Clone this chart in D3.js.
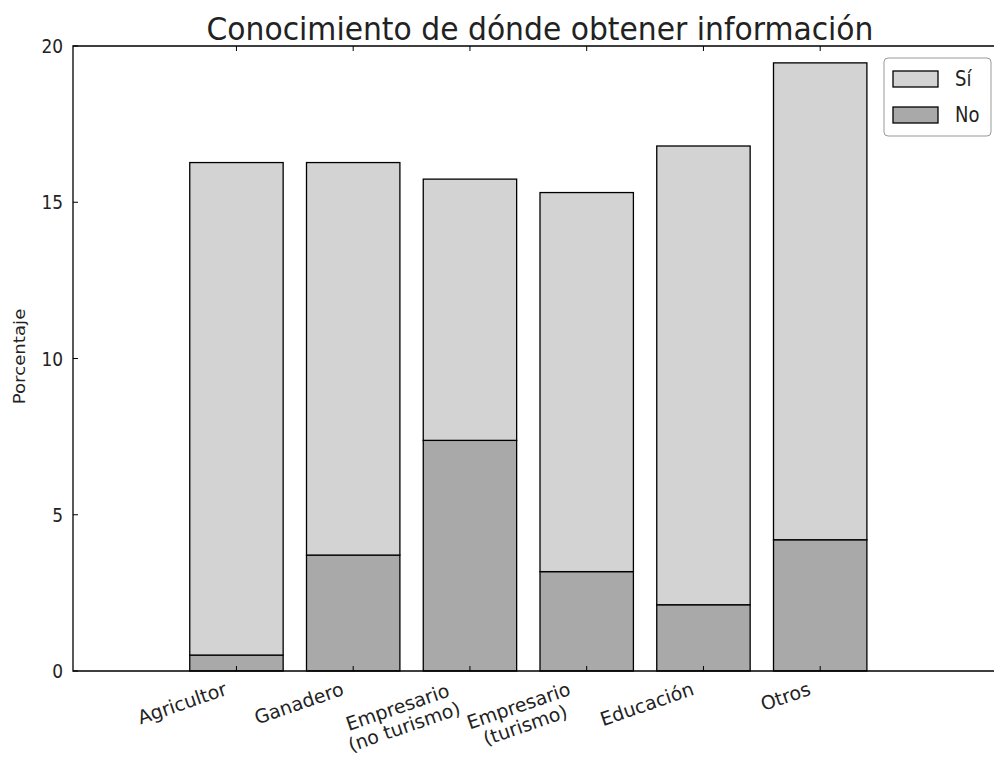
<!DOCTYPE html>
<html><head><meta charset="utf-8">
<script src="https://cdn.jsdelivr.net/npm/d3@7"></script>
<style>body{margin:0;background:#fff}svg{display:block;font-family:"DejaVu Sans",sans-serif}</style>
</head><body>
<svg id="c" width="994" height="758"></svg>
<script>
const categories = [["Agricultor"],["Ganadero"],["Empresario","(no turismo)"],["Empresario","(turismo)"],["Educación"],["Otros"]];
const noValues = [0.51, 3.71, 7.38, 3.18, 2.12, 4.20];
const siValues = [15.76, 12.56, 8.36, 12.13, 14.68, 15.26];
const yTicks = [0, 5, 10, 15, 20];
const seriesNames = ["Sí", "No"];
const colors = {"Sí": "#d3d3d3", "No": "#a9a9a9"};
const title = "Conocimiento de dónde obtener información";
const yLabel = "Porcentaje";

(function () {
const svg = d3.select("#c");
const pL = 73, pT = 46, pB = 671, pR = 1007;
const sy = 1.15;
const x = d3.scaleLinear().domain([0, 8]).range([pL, pR]);
const y = d3.scaleLinear().domain([0, 20]).range([pB, pT]);
const bw = 0.8;
const pos = categories.map((d, i) => i + 1);

const g = svg.append("g");
g.selectAll("rect.no").data(noValues).join("rect")
  .attr("x", (d, i) => x(pos[i])).attr("width", x(pos[0] + bw) - x(pos[0]))
  .attr("y", d => y(d)).attr("height", d => y(0) - y(d))
  .attr("fill", colors["No"]).attr("stroke", "#000").attr("stroke-width", 1.3);
g.selectAll("rect.si").data(siValues).join("rect")
  .attr("x", (d, i) => x(pos[i])).attr("width", x(pos[0] + bw) - x(pos[0]))
  .attr("y", (d, i) => y(noValues[i] + d)).attr("height", (d, i) => y(noValues[i]) - y(noValues[i] + d))
  .attr("fill", colors["Sí"]).attr("stroke", "#000").attr("stroke-width", 1.3);

svg.append("path").attr("d", `M${pR},${pT}H${pL}V${pB}H${pR}`)
  .attr("stroke", "#000").attr("stroke-width", 1.3).attr("fill", "none");

yTicks.forEach(t => {
  svg.append("line").attr("x1", pL).attr("x2", pL + 5).attr("y1", y(t)).attr("y2", y(t)).attr("stroke", "#000").attr("stroke-width", 1);
  svg.append("text").attr("transform", `translate(${pL - 10},${y(t)}) scale(1,${sy})`).attr("dy", "0.36em")
    .attr("text-anchor", "end").attr("font-size", 17).attr("fill", "#222").text(t);
});

const ticksX = pos.map(p => p + bw / 2);
ticksX.forEach(t => {
  svg.append("line").attr("x1", x(t)).attr("x2", x(t)).attr("y1", pB).attr("y2", pB - 5).attr("stroke", "#000").attr("stroke-width", 1);
  svg.append("line").attr("x1", x(t)).attr("x2", x(t)).attr("y1", pT).attr("y2", pT + 5).attr("stroke", "#000").attr("stroke-width", 1);
});

const fs = 19, lh = fs * 1.08, ang = 19, rad = ang * Math.PI / 180;
categories.forEach((lines, i) => {
  const tx = x(ticksX[i]);
  const grp = svg.append("g");
  const texts = lines.map(ln => grp.append("text").attr("font-size", fs).attr("fill", "#222").text(ln));
  const widths = texts.map(t => t.node().getComputedTextLength());
  const w = Math.max(...widths);
  const h = lh * (lines.length - 1) + fs;
  texts.forEach((t, k) => t.attr("x", -w + (w - widths[k]) / 2).attr("y", k * lh + fs * 0.8));
  const ax0 = tx - 7 - h * Math.sin(rad);
  const ay0 = pB + 9;
  grp.attr("transform", `translate(${ax0},${ay0}) rotate(${-ang})`);
});

svg.append("text").attr("transform", `translate(25,${(pT + pB) / 2 - 2}) scale(1,${sy}) rotate(-90)`)
  .attr("text-anchor", "middle").attr("font-size", 15.8).attr("fill", "#222").text(yLabel);

svg.append("text").attr("transform", `translate(${(pL + pR) / 2},40) scale(1,1.05)`).attr("text-anchor", "middle")
  .attr("font-size", 29.8).attr("fill", "#222").text(title);

const lg = svg.append("g");
lg.append("rect").attr("x", 884).attr("y", 58).attr("width", 107).attr("height", 78).attr("rx", 4)
  .attr("fill", "#fff").attr("stroke", "#999").attr("stroke-width", 1);
seriesNames.forEach((s, k) => {
  const yy = 71 + k * 36;
  lg.append("rect").attr("x", 893).attr("y", yy).attr("width", 45).attr("height", 16)
    .attr("fill", colors[s]).attr("stroke", "#000").attr("stroke-width", 1.3);
  lg.append("text").attr("transform", `translate(955,${yy + 8}) scale(1,${sy})`).attr("dy", "0.36em")
    .attr("font-size", 18).attr("fill", "#222").text(s);
});
})();
</script>
</body></html>
